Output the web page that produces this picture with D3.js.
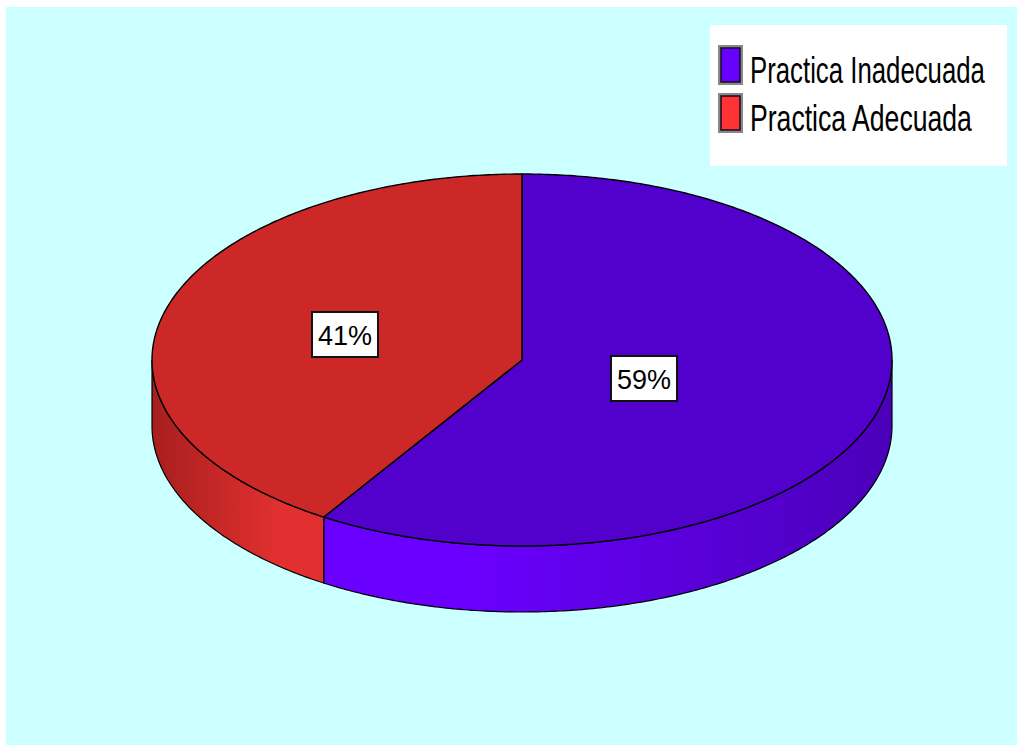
<!DOCTYPE html>
<html>
<head>
<meta charset="utf-8">
<script src="https://cdn.jsdelivr.net/npm/d3@7"></script>
<style>
	body { margin: 0; background: #fff; }
	svg { display: block; }
</style>
</head>
<body>
<svg id="chart" width="1017" height="745"></svg>
<script>
// data
const categories = ["Practica Inadecuada", "Practica Adecuada"];
const values = [59, 41];
const pctLabels = ["59%", "41%"];

const size = { w: 1017, h: 745 };
const topColors = ["#5200cc", "#cc2828"];
const legendColors = ["#6600ff", "#ff3333"];
const sideDark = ["#4a00b8", "#a81e1e"];
const sideLight = ["#6a00ff", "#e23030"];

const svg = d3.select("#chart");
svg.append("rect").attr("width", size.w).attr("height", size.h).attr("fill", "#fff");
svg.append("rect").attr("x", 6).attr("y", 7).attr("width", size.w - 6).attr("height", size.h - 7).attr("fill", "#ccffff");

// ellipse geometry
const cx = 522, cy = 360, rx = 370, ry = 186, depth = 66;

let pieFn = d3.pie().sort(null).startAngle(0).endAngle(2 * Math.PI);
let arcs = pieFn(values);

const pt = (a, dy = 0) => [cx + rx * Math.sin(a), cy - ry * Math.cos(a) + dy];
const line = d3.line();

function arcPoints(a0, a1, dy) {
	let n = Math.max(2, Math.ceil(Math.abs(a1 - a0) / 0.01));
	return d3.range(n + 1).map((i) => pt(a0 + (a1 - a0) * (i / n), dy));
}

let defs = svg.append("defs");
arcs.forEach((d, i) => {
	let g = defs.append("linearGradient")
		.attr("id", "side" + i)
		.attr("gradientUnits", "userSpaceOnUse")
		.attr("x1", i === 0 ? 893 : 152).attr("x2", 322)
		.attr("y1", 0).attr("y2", 0);
	g.append("stop").attr("offset", 0).attr("stop-color", sideDark[i]);
	g.append("stop").attr("offset", 0.75).attr("stop-color", sideLight[i]);
	g.append("stop").attr("offset", 1).attr("stop-color", sideLight[i]);
});

let chartG = svg.append("g");

// sides (front half only, pi/2 .. 3pi/2)
chartG.selectAll("path.side")
	.data(arcs)
	.join("path")
	.classed("side", true)
	.attr("d", (d) => {
		let a0 = Math.max(d.startAngle, Math.PI / 2);
		let a1 = Math.min(d.endAngle, 1.5 * Math.PI);
		if (a1 <= a0) return null;
		let pts = arcPoints(a0, a1, 0).concat(arcPoints(a1, a0, depth));
		return line(pts) + "Z";
	})
	.attr("fill", (d, i) => `url(#side${i})`)
	.attr("stroke", "#000")
	.attr("stroke-width", 1.2);

// tops
chartG.selectAll("path.top")
	.data(arcs)
	.join("path")
	.classed("top", true)
	.attr("d", (d) => line([[cx, cy]].concat(arcPoints(d.startAngle, d.endAngle, 0))) + "Z")
	.attr("fill", (d, i) => topColors[i])
	.attr("stroke", "#000")
	.attr("stroke-width", 1.4)
	.attr("stroke-linejoin", "round");

// labels
const labelPos = [[644, 379], [345, 335]];
let labelG = chartG.selectAll("g.lbl")
	.data(arcs)
	.join("g")
	.classed("lbl", true)
	.attr("transform", (d, i) => `translate(${labelPos[i][0]}, ${labelPos[i][1]})`);

labelG.append("rect")
	.attr("x", -33).attr("y", -23).attr("width", 66).attr("height", 45)
	.attr("fill", "#fff")
	.attr("stroke", "#111")
	.attr("stroke-width", 2);

labelG.append("text")
	.attr("text-anchor", "middle")
	.attr("y", 10)
	.attr("font-family", "Liberation Sans, Arial, sans-serif")
	.attr("font-size", 27)
	.attr("fill", "#000")
	.text((d, i) => pctLabels[i]);

// legend
let legendG = svg.append("g");
legendG.append("rect")
	.attr("x", 710).attr("y", 25).attr("width", 297).attr("height", 141)
	.attr("fill", "#fff");

const legTextW = [235, 222];
let item = legendG.selectAll("g.item")
	.data(categories)
	.join("g")
	.classed("item", true)
	.attr("transform", (d, i) => `translate(718, ${45 + i * 48})`);

item.append("rect")
	.attr("x", 0).attr("y", 0).attr("width", 25).attr("height", 40)
	.attr("fill", "#888");
item.append("rect")
	.attr("x", 3).attr("y", 3).attr("width", 19).attr("height", 34)
	.attr("fill", (d, i) => legendColors[i])
	.attr("stroke", "#1a0a20")
	.attr("stroke-width", 1.5);

// condensed look: scale text horizontally to the reference width
item.append("text")
	.attr("font-family", "Liberation Sans, Arial, sans-serif")
	.attr("font-size", 37)
	.attr("fill", "#000")
	.text((d) => d)
	.attr("transform", function (d, i) {
		let w = this.getComputedTextLength();
		return `translate(32, 38) scale(${legTextW[i] / w}, 1)`;
	});
</script>
</body>
</html>
